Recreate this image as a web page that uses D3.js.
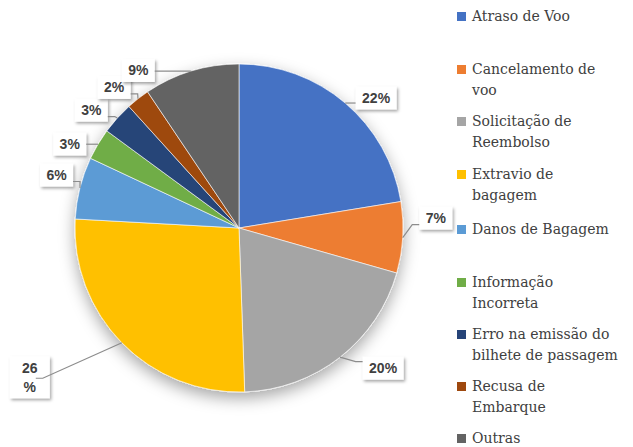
<!DOCTYPE html>
<html>
<head>
<meta charset="utf-8">
<script src="https://cdn.jsdelivr.net/npm/d3@7"></script>
<style>
  body { margin: 0; background: #fff; }
  svg { display: block; }
</style>
</head>
<body>
<svg id="drawing_region"></svg>
<script>
// data
const categories = [
    ["Atraso de Voo"],
    ["Cancelamento de", "voo"],
    ["Solicitação de", "Reembolso"],
    ["Extravio de", "bagagem"],
    ["Danos de Bagagem"],
    ["Informação", "Incorreta"],
    ["Erro na emissão do", "bilhete de passagem"],
    ["Recusa de", "Embarque"],
    ["Outras"]
];
const shares = [22.4, 7.0, 20.0, 26.4, 6.1, 3.1, 3.2, 2.3, 9.4];
const colors = ["#4472C4", "#ED7D31", "#A5A5A5", "#FFC000", "#5B9BD5",
                "#70AD47", "#264478", "#9E480E", "#636363"];

// label placement (angle in degrees clockwise from 12 o'clock, distance from centre)
const labelAngle = [46.5, 87.1, 134.2, 234.5, 286.2, 296.4, 308.6, 318.4, 327.4];
const labelDist  = [189, 197, 201, 257, 190, 189, 189, 188, 187];
// legend rows (first line baseline)
const legendRows = [21, 74, 126, 179, 234, 287, 339, 391, 443];

const config = {
    width: 633,
    height: 447,
    cx: 239,
    cy: 228,
    radius: 164
};

const svg = d3.select('#drawing_region')
    .attr('width', config.width)
    .attr('height', config.height);

const defs = svg.append('defs');
defs.append('filter')
    .attr('id', 'pieShadow')
    .attr('x', '-30%').attr('y', '-30%').attr('width', '160%').attr('height', '160%')
  .append('feDropShadow')
    .attr('dx', 0).attr('dy', 6)
    .attr('stdDeviation', 8)
    .attr('flood-color', '#000')
    .attr('flood-opacity', 0.35);
defs.append('filter')
    .attr('id', 'boxShadow')
    .attr('x', '-30%').attr('y', '-30%').attr('width', '170%').attr('height', '170%')
  .append('feDropShadow')
    .attr('dx', 1.5).attr('dy', 2)
    .attr('stdDeviation', 1.6)
    .attr('flood-color', '#000')
    .attr('flood-opacity', 0.35);

const pie = d3.pie().sort(null).value(d => d);
const arcs = pie(shares);
const arc = d3.arc().innerRadius(0).outerRadius(config.radius);

const chart = svg.append('g')
    .attr('transform', `translate(${config.cx}, ${config.cy})`);

chart.append('g')
    .attr('filter', 'url(#pieShadow)')
  .selectAll('path')
    .data(arcs)
    .join('path')
    .attr('d', arc)
    .attr('fill', (d, i) => colors[i])
    .attr('stroke', '#fff')
    .attr('stroke-width', 0.6);

// data labels
const polar = (a, r) => [r * Math.sin(a), -r * Math.cos(a)];
const labelFont = "bold 14px 'Liberation Sans', Arial, sans-serif";

const labels = arcs.map((d, i) => {
    const mid = (d.startAngle + d.endAngle) / 2;
    const start = polar(mid, config.radius);
    const c = polar(labelAngle[i] * Math.PI / 180, labelDist[i]);
    const pct = Math.round(shares[i]) + '%';
    const lines = i === 3 ? [pct.slice(0, -1), '%'] : [pct];
    const w = i === 3 ? 40 : (pct.length > 2 ? 41 : 33);
    const h = lines.length * 19 + 4;
    return { start, c, lines, w, h };
});

const labelGroup = chart.append('g');

labelGroup.selectAll('rect')
    .data(labels)
    .join('rect')
    .attr('x', d => d.c[0] - d.w / 2)
    .attr('y', d => d.c[1] - d.h / 2)
    .attr('width', d => d.w)
    .attr('height', d => d.h)
    .attr('fill', '#fff')
    .attr('filter', 'url(#boxShadow)');

labelGroup.selectAll('path')
    .data(labels)
    .join('path')
    .attr('d', (d, i) => {
        const right = d.c[0] > d.start[0];
        let ex = right ? d.c[0] - d.w / 2 : d.c[0] + d.w / 2;
        let ey = Math.max(d.c[1] - d.h / 2 + 5, Math.min(d.c[1] + d.h / 2 - 5, d.start[1]));
        if (i === 3) { ex = d.c[0] + 6; ey = d.c[1] + 1; }
        const elbow = right ? ex - 7 : ex + 7;
        return `M${d.start[0]},${d.start[1]}L${elbow},${ey}L${ex},${ey}`;
    })
    .attr('fill', 'none')
    .attr('stroke', '#8c8c8c')
    .attr('stroke-width', 1.2);

labelGroup.selectAll('text')
    .data(labels)
    .join('text')
    .attr('x', d => d.c[0])
    .attr('y', d => d.c[1] - (d.lines.length - 1) * 9.5 + 5)
    .attr('text-anchor', 'middle')
    .style('font', labelFont)
    .attr('fill', '#404040')
    .selectAll('tspan')
    .data(d => d.lines.map(t => ({ t, x: d.c[0] })))
    .join('tspan')
    .attr('x', d => d.x)
    .attr('dy', (d, j) => j === 0 ? 0 : 19)
    .text(d => d.t);

// legend
const legend = svg.append('g')
    .attr('transform', 'translate(457, 0)');

const items = legend.selectAll('g')
    .data(categories)
    .join('g')
    .attr('transform', (d, i) => `translate(0, ${legendRows[i]})`);

items.append('rect')
    .attr('x', 0)
    .attr('y', -9)
    .attr('width', 9)
    .attr('height', 9)
    .attr('fill', (d, i) => colors[i]);

items.append('text')
    .style('font', "14px 'DejaVu Serif', serif")
    .attr('fill', '#404040')
    .selectAll('tspan')
    .data(d => d)
    .join('tspan')
    .attr('x', 15)
    .attr('y', (d, j) => j * 21)
    .text(d => d);
</script>
</body>
</html>
